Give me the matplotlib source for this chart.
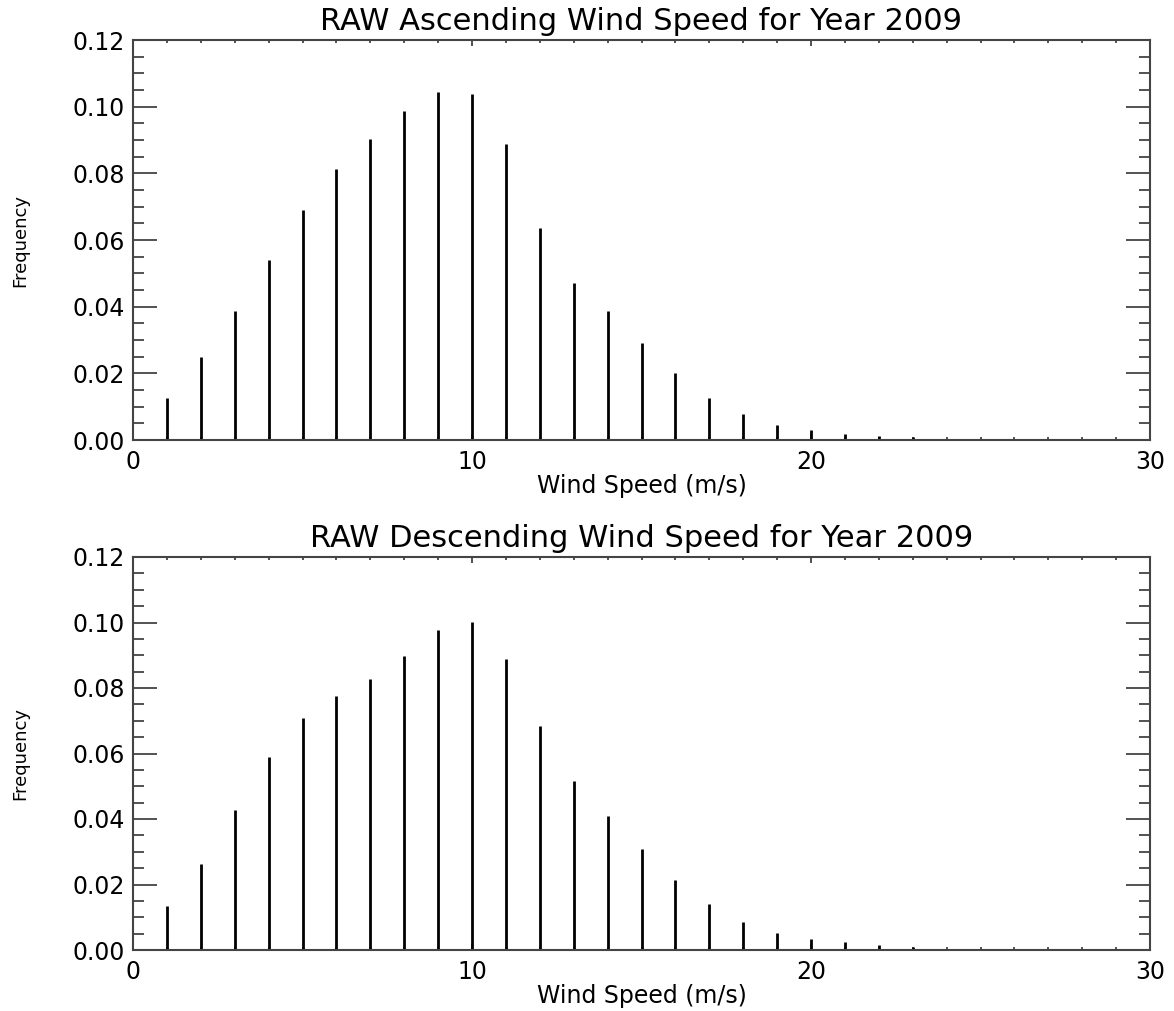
import matplotlib
matplotlib.use('Agg')
import matplotlib.pyplot as plt
from matplotlib.ticker import MultipleLocator, FormatStrFormatter
import numpy as np

speed = np.arange(1, 30)

# frequencies, one per 1 m/s bin
asc_freq = [0.0126, 0.0248, 0.0388, 0.0541, 0.0689, 0.0812, 0.0903, 0.0986, 0.1045, 0.1039,
            0.0888, 0.0636, 0.0471, 0.0388, 0.0292, 0.0201, 0.0127, 0.0077, 0.0044, 0.0030,
            0.0018, 0.0012, 0.0008, 0.0004, 0.0003, 0.0002, 0.0002, 0.0001, 0.0001]
desc_freq = [0.0135, 0.0263, 0.0426, 0.0589, 0.0708, 0.0775, 0.0829, 0.0898, 0.0978, 0.1001,
             0.0888, 0.0684, 0.0515, 0.0408, 0.0307, 0.0213, 0.0139, 0.0085, 0.0053, 0.0033,
             0.0024, 0.0014, 0.0010, 0.0004, 0.0003, 0.0002, 0.0002, 0.0001, 0.0001]

titles = ['RAW Ascending Wind Speed for Year 2009',
          'RAW Descending Wind Speed for Year 2009']

W, H = 1174, 1011
fig = plt.figure(figsize=(W / 100, H / 100), dpi=100)
ax1 = fig.add_axes([133 / W, 1 - 440 / H, 1017 / W, 400 / H])
ax2 = fig.add_axes([133 / W, 1 - 950 / H, 1017 / W, 393 / H])

axis_col = '#444444'

for ax, vals, title in zip([ax1, ax2], [asc_freq, desc_freq], titles):
    ax.vlines(speed, 0, vals, color='black', lw=2.0)
    ax.set_xlim(0, 30)
    ax.set_ylim(0, 0.12)

    ax.xaxis.set_major_locator(MultipleLocator(10))
    ax.xaxis.set_minor_locator(MultipleLocator(1))
    ax.yaxis.set_major_locator(MultipleLocator(0.02))
    ax.yaxis.set_minor_locator(MultipleLocator(0.005))
    ax.yaxis.set_major_formatter(FormatStrFormatter('%.2f'))

    ax.tick_params(axis='both', which='both', direction='in', top=True, right=True,
                   color=axis_col, width=1.3)
    ax.tick_params(axis='x', which='major', length=4, pad=7, labelsize=17)
    ax.tick_params(axis='x', which='minor', length=2.5)
    ax.tick_params(axis='y', which='major', length=17, pad=6, labelsize=17)
    ax.tick_params(axis='y', which='minor', length=8)

    for sp in ax.spines.values():
        sp.set_color(axis_col)
        sp.set_linewidth(1.5)

    ax.set_title(title, fontsize=22, pad=7)
    ax.set_xlabel('Wind Speed (m/s)', fontsize=17, labelpad=0)
    ax.set_ylabel('Frequency', fontsize=13,
                  family=['Liberation Sans Narrow', 'DejaVu Sans'])
    ax.yaxis.set_label_coords(-0.102, 0.5)

fig.savefig('out.png', dpi=100)
